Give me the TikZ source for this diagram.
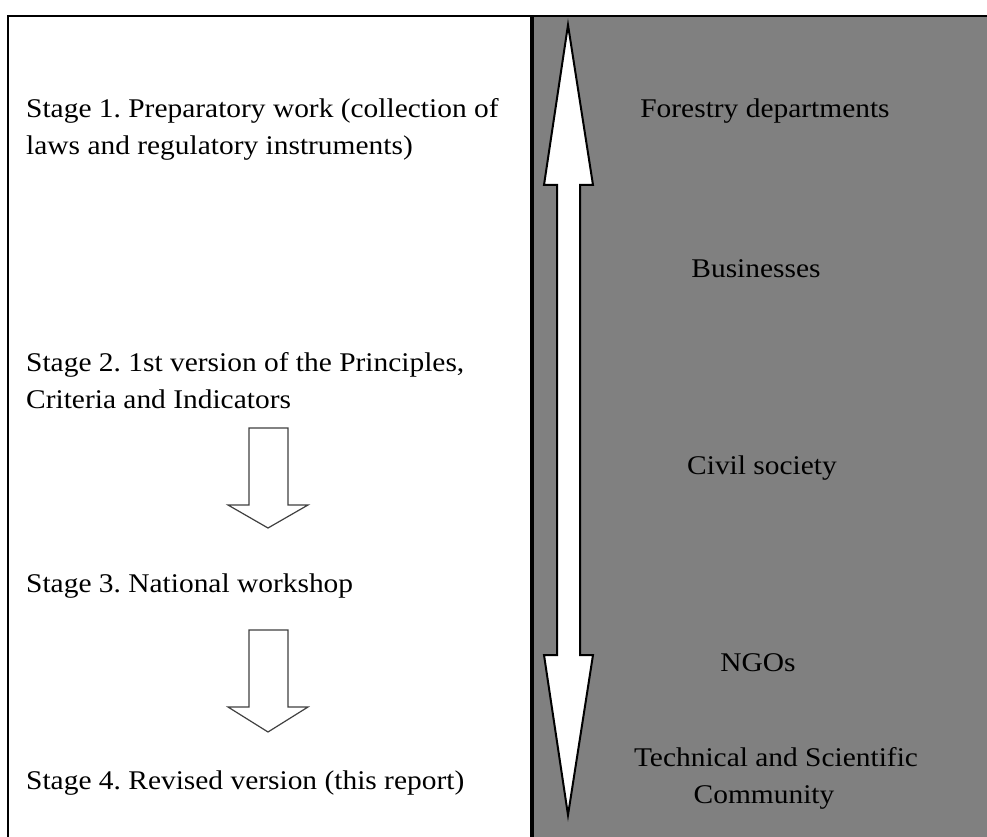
\documentclass[tikz,border=0pt]{standalone}
\usepackage{fontspec}
\setmainfont[FakeStretch=1.09]{Liberation Serif}
\frenchspacing
\begin{document}
\begin{tikzpicture}[x=1pt,y=-1pt,
  label/.style={inner sep=0pt, font=\fontsize{27}{37}\selectfont, align=left},
  rlabel/.style={inner sep=0pt, font=\fontsize{27}{37}\selectfont, align=center},
  frame/.style={line width=2pt, draw=black},
  bigarrow/.style={fill=white, draw=black, line width=2pt, line join=miter},
  steparrow/.style={fill=white, draw=black!75, line width=1.2pt, line join=miter}]
\clip (0,0) rectangle (987,837);
\fill[white] (0,0) rectangle (987,837);
% panels
\filldraw[frame, fill=white] (8,16) rectangle (531,860);
\filldraw[frame, fill=black!50] (533,16) rectangle (1000,860);
% stages (base anchor sits on the last line)
\node[label, anchor=base west] (s1) at (26,155) {Stage 1. Preparatory work (collection of\\laws and regulatory instruments)};
\node[label, anchor=base west] (s2) at (26,408) {Stage 2. 1st version of the Principles,\\Criteria and Indicators};
\node[label, anchor=base west] (s3) at (26,592) {Stage 3. National workshop};
\node[label, anchor=base west] (s4) at (26,789) {Stage 4. Revised version (this report)};
% arrows between stages
\filldraw[steparrow] (249,428) -- (288,428) -- (288,505) -- (308,505) -- (268,528) -- (228,505) -- (249,505) -- cycle;
\filldraw[steparrow] (249,630) -- (288,630) -- (288,707) -- (308,707) -- (268,732) -- (228,707) -- (249,707) -- cycle;
% two-way arrow
\filldraw[bigarrow] (568,25) -- (593,185) -- (580,185) -- (580,655) -- (593,655) -- (568,815)
  -- (544,655) -- (557,655) -- (557,185) -- (544,185) -- cycle;
% actors
\node[rlabel, anchor=base] (a1) at (765,118) {Forestry departments};
\node[rlabel, anchor=base] (a2) at (756,277) {Businesses};
\node[rlabel, anchor=base] (a3) at (762,474) {Civil society};
\node[rlabel, anchor=base] (a4) at (758,671) {NGOs};
\node[rlabel, anchor=base] (a5) at (776,803) {Technical and Scientific\\Community\hspace*{24pt}};
\end{tikzpicture}
\end{document}
